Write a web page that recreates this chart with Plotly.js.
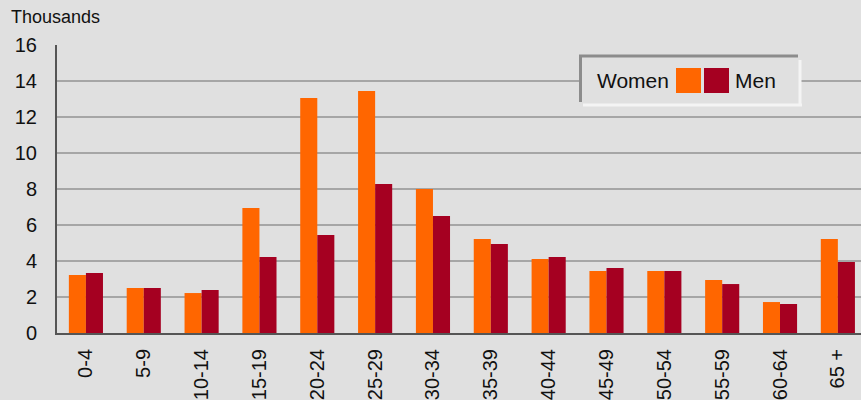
<!DOCTYPE html>
<html>
<head>
<meta charset="utf-8">
<script src="https://cdn.plot.ly/plotly-3.0.1.min.js"></script>
<style>html,body{margin:0;padding:0;background:#e0e0e0;overflow:hidden;}</style>
</head>
<body>
<div id="chart" style="width:861px;height:400px;"></div>
<script>
const ageGroups = ["0-4","5-9","10-14","15-19","20-24","25-29","30-34","35-39","40-44","45-49","50-54","55-59","60-64","65 +"];
const women = [3.22,2.5,2.22,6.94,13.06,13.44,8.0,5.22,4.11,3.44,3.44,2.94,1.72,5.22];
const men   = [3.33,2.5,2.39,4.22,5.44,8.28,6.5,4.94,4.22,3.61,3.44,2.72,1.61,3.94];
const yTicks = [0,2,4,6,8,10,12,14,16];

const W = 861, H = 400, L = 57, R = 0, T = 45, B = 67;
const pw = W - L - R, ph = H - T - B;
const px = x => (x - L) / pw;
const py = y => (H - B - y) / ph;

const font = "Liberation Sans, Arial, sans-serif";
const orange = "#FF6600", red = "#A50021";

const traces = [
  {type:"bar", name:"Women", x:ageGroups, y:women, marker:{color:orange}, showlegend:false, hoverinfo:"x+y"},
  {type:"bar", name:"Men", x:ageGroups, y:men, marker:{color:red}, showlegend:false, hoverinfo:"x+y"}
];

const shapes = [
  {type:"rect", xref:"paper", yref:"paper", x0:px(580), x1:px(800), y0:py(104), y1:py(55), fillcolor:"#e0e0e0", line:{width:0}, layer:"above"},
  {type:"line", xref:"paper", yref:"paper", x0:px(583), x1:px(802), y0:py(105), y1:py(105), line:{color:"#f4f4f4", width:3}, layer:"above"},
  {type:"line", xref:"paper", yref:"paper", x0:px(800), x1:px(800), y0:py(60), y1:py(106), line:{color:"#f4f4f4", width:3}, layer:"above"},
  {type:"line", xref:"paper", yref:"paper", x0:px(579), x1:px(798), y0:py(56), y1:py(56), line:{color:"#8c8c8c", width:3}, layer:"above"},
  {type:"line", xref:"paper", yref:"paper", x0:px(580.5), x1:px(580.5), y0:py(55), y1:py(102), line:{color:"#8c8c8c", width:3}, layer:"above"},
  {type:"rect", xref:"paper", yref:"paper", x0:px(676), x1:px(701), y0:py(93), y1:py(68), fillcolor:orange, line:{width:0}, layer:"above"},
  {type:"rect", xref:"paper", yref:"paper", x0:px(704), x1:px(729), y0:py(93), y1:py(68), fillcolor:red, line:{width:0}, layer:"above"}
];

const annotations = [
  {text:"Thousands", xref:"paper", yref:"paper", x:px(9), y:py(17), xanchor:"left", yanchor:"middle", showarrow:false, font:{family:font, size:18, color:"#111"}},
  {text:"Women", xref:"paper", yref:"paper", x:px(671), y:py(80), xanchor:"right", yanchor:"middle", showarrow:false, font:{family:font, size:21, color:"#111"}},
  {text:"Men", xref:"paper", yref:"paper", x:px(733), y:py(80), xanchor:"left", yanchor:"middle", showarrow:false, font:{family:font, size:21, color:"#111"}}
];

const layout = {
  width:W, height:H,
  margin:{l:L, r:R, t:T, b:B, pad:0},
  paper_bgcolor:"#e0e0e0", plot_bgcolor:"#e0e0e0",
  barmode:"group", bargap:0.41, bargroupgap:0,
  font:{family:font, color:"#111"},
  xaxis:{
    type:"category", range:[-0.5, 13.4], automargin:false,
    tickangle:-90, tickfont:{family:font, size:20, color:"#111"},
    ticks:"", ticklabelstandoff:6,
    showline:true, linecolor:"#555", linewidth:2, showgrid:false, fixedrange:true
  },
  yaxis:{
    range:[0,16], tickvals:yTicks, ticktext:yTicks.map(String), automargin:false,
    tickfont:{family:font, size:20, color:"#111"}, ticks:"", ticklabelstandoff:14,
    showline:true, linecolor:"#555", linewidth:2,
    showgrid:true, gridcolor:"#a6a6a6", gridwidth:1.5, zeroline:false, fixedrange:true
  },
  shapes:shapes, annotations:annotations, showlegend:false
};

Plotly.newPlot("chart", traces, layout, {displayModeBar:false, staticPlot:true});
</script>
</body>
</html>
